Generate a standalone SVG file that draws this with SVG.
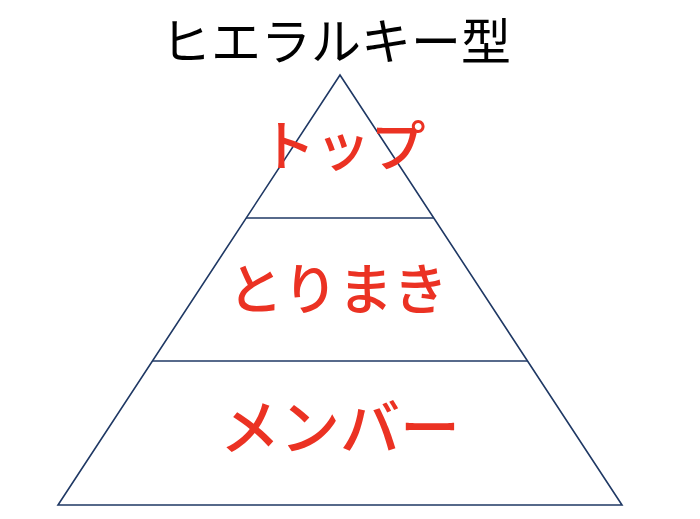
<svg xmlns="http://www.w3.org/2000/svg" width="700" height="519" viewBox="0 0 700 519">
<style>
.edge{fill:none;stroke:#1F3864;stroke-width:1.6}
.lbl{font-family:"Noto Sans CJK JP","Noto Sans",sans-serif;fill:#EB3223;font-size:60px;font-weight:500;text-anchor:middle}
.title{font-family:"Noto Sans CJK JP","Noto Sans",sans-serif;fill:#000;font-size:50px;text-anchor:middle}
</style>
<rect width="700" height="519" fill="#fff"/>
<g id="connectors">
<polygon class="edge" points="340,75 58,505 622,505"/>
<line class="edge" x1="246" y1="218" x2="434" y2="218"/>
<line class="edge" x1="152" y1="361" x2="528" y2="361"/>
</g>
<g id="title"><text class="title" x="336" y="60">ヒエラルキー型</text></g>
<g id="top"><text class="lbl" x="343" y="166" style="font-size:55px">トップ</text></g>
<g id="torimaki"><text class="lbl" x="338" y="309" style="font-size:55px">とりまき</text></g>
<g id="member"><text class="lbl" x="340" y="450">メンバー</text></g>
</svg>
